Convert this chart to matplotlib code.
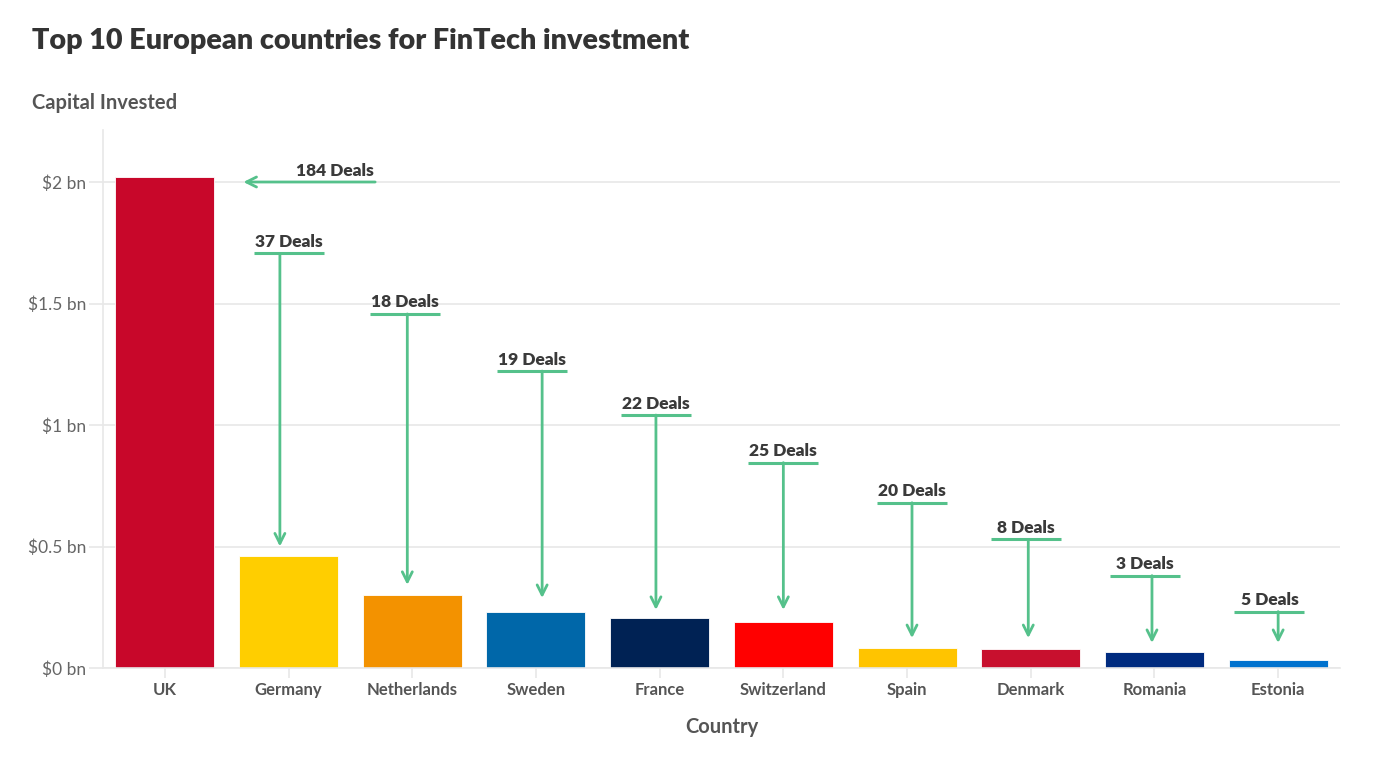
import matplotlib
matplotlib.use("Agg")
import matplotlib.pyplot as plt

plt.rcParams['font.family'] = ['Lato', 'DejaVu Sans']

countries = ["UK", "Germany", "Netherlands", "Sweden", "France", "Switzerland",
             "Spain", "Denmark", "Romania", "Estonia"]
capital_bn = [2.02, 0.462, 0.30, 0.232, 0.207, 0.19, 0.084, 0.080, 0.066, 0.033]
deals = [184, 37, 18, 19, 22, 25, 20, 8, 3, 5]
colors = ["#c8072a", "#ffce00", "#f39200", "#0067a9", "#002254", "#ff0000",
          "#ffc400", "#c8102e", "#002b7f", "#0072ce"]
ytick_vals = [0, 0.5, 1, 1.5, 2]
ytick_labels = ["$0 bn", "$0.5 bn", "$1 bn", "$1.5 bn", "$2 bn"]

# annotation placement (data units)
label_line_y = [2.0, 1.706, 1.457, 1.222, 1.041, 0.845, 0.680, 0.529, 0.380, 0.232]
arrow_tip_y = [None, 0.50, 0.342, 0.288, 0.239, 0.239, 0.123, 0.123, 0.103, 0.103]
label_dx = [1.378, 0.0, -0.06, -0.03, -0.03, 0.0, 0.04, -0.04, -0.08, -0.07]
arrow_dx = [0.0, -0.07, -0.04, 0.05, -0.03, 0.0, 0.04, -0.02, -0.02, 0.0]

GREEN = "#55c18b"
GRID = "#e8e8e8"

fig = plt.figure(figsize=(14, 7.65), dpi=100)
ax = fig.add_axes([103/1400, 97/765, 1237/1400, 538/765])

x = list(range(len(countries)))
ax.bar(x, capital_bn, width=0.8, color=colors, edgecolor="white", linewidth=0.6, zorder=2)

ax.set_xlim(-0.5, 9.5)
ax.set_ylim(0, 2.214)
ax.set_yticks(ytick_vals)
ax.set_yticklabels(ytick_labels, fontsize=12.5, color="#666666")
ax.set_xticks(x)
ax.set_xticklabels(countries, fontsize=12, fontweight="bold", color="#555555")
ax.tick_params(axis="y", length=10, color=GRID, width=1.2, pad=2)
ax.tick_params(axis="x", length=7, color=GRID, width=1.2, pad=3)
ax.grid(axis="y", color=GRID, linewidth=1.2, zorder=0)
ax.set_axisbelow(True)
for s in ["top", "right"]:
    ax.spines[s].set_visible(False)
ax.spines["left"].set_color(GRID)
ax.spines["left"].set_linewidth(1.2)
ax.spines["bottom"].set_color(GRID)
ax.spines["bottom"].set_linewidth(1.2)

ax.set_xlabel("Country", fontsize=14.5, fontweight="bold", color="#555555", labelpad=14)

half_w = 0.283
for i, n in enumerate(deals):
    ly = label_line_y[i]
    if i == 0:
        lx = label_dx[0]
        ax.annotate("", xy=(0.635, ly), xytext=(1.70, ly),
                    arrowprops=dict(arrowstyle="->", color=GREEN, lw=2,
                                    shrinkA=0, shrinkB=0, mutation_scale=18), zorder=3)
    else:
        lx = i + label_dx[i]
        ax.plot([lx - half_w, lx + half_w], [ly, ly], color=GREEN, lw=2.2,
                solid_capstyle="butt", zorder=3)
        ax.annotate("", xy=(i + arrow_dx[i], arrow_tip_y[i]), xytext=(i + arrow_dx[i], ly),
                    arrowprops=dict(arrowstyle="->", color=GREEN, lw=2,
                                    shrinkA=0, shrinkB=0, mutation_scale=18), zorder=3)
    ax.annotate(f"{n} Deals", (lx, ly), xytext=(0, 2.5), textcoords="offset points",
                ha="center", va="bottom", fontsize=12.5, fontweight="heavy",
                color="#3a3a3a", zorder=4)

fig.text(32/1400, 1 - 49/765, "Top 10 European countries for FinTech investment",
         fontsize=20.7, fontweight="heavy", color="#333333", ha="left", va="baseline")
fig.text(32/1400, 1 - 109/765, "Capital Invested", fontsize=14.5, fontweight="bold",
         color="#555555", ha="left", va="baseline")

fig.savefig("out.png", dpi=100, facecolor="white")
